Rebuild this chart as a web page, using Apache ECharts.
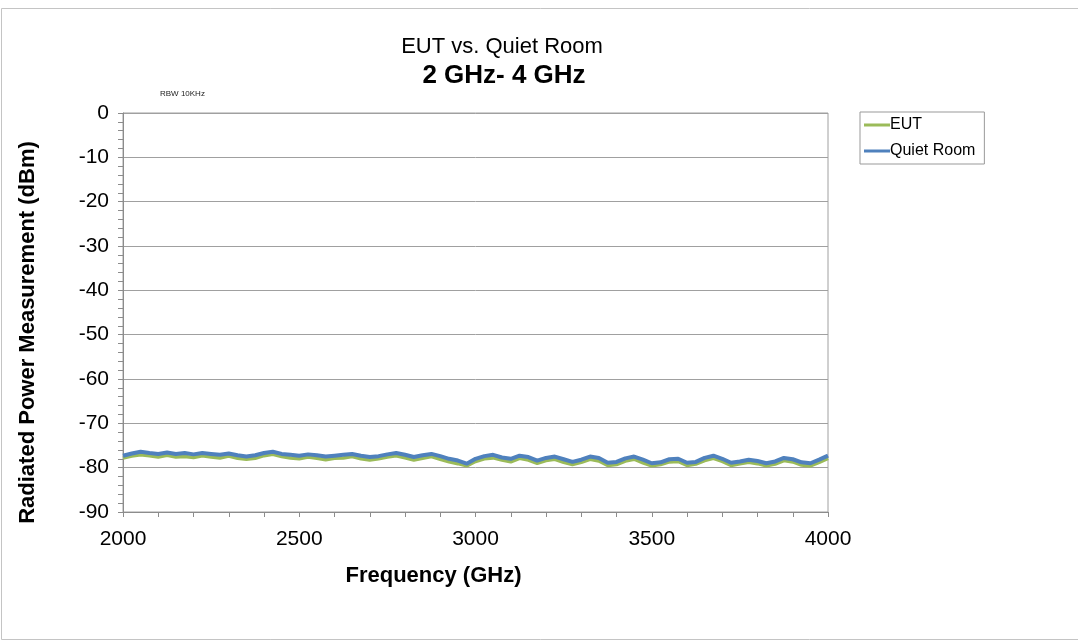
<!DOCTYPE html>
<html>
<head>
<meta charset="utf-8">
<script src="https://cdn.jsdelivr.net/npm/echarts@6/dist/echarts.min.js"></script>
<style>
  html, body { margin: 0; padding: 0; background: #fff; }
  #chart { width: 1078px; height: 644px; }
</style>
</head>
<body>
<div id="chart"></div>
<script>
// frequency points, 25 MHz apart
var freqStart = 2000, freqStep = 25;

var eutValues = [
    -77.8, -77.4, -77.1, -77.3, -77.6, -77.2, -77.6, -77.5, -77.7, -77.3,
    -77.6, -77.8, -77.4, -77.9, -78.1, -77.9, -77.3, -77.0, -77.5, -77.8,
    -78.0, -77.6, -77.9, -78.2, -77.9, -77.8, -77.5, -78.0, -78.3, -78.0,
    -77.6, -77.3, -77.8, -78.3, -77.9, -77.5, -78.1, -78.7, -79.1, -79.6,
    -78.6, -78.0, -77.8, -78.3, -78.7, -77.9, -78.3, -79.0, -78.4, -78.1,
    -78.8, -79.3, -78.8, -78.1, -78.5, -79.5, -79.3, -78.5, -78.1, -78.9,
    -79.6, -79.3, -78.7, -78.6, -79.5, -79.2, -78.4, -77.9, -78.6, -79.5,
    -79.1, -78.8, -79.1, -79.6, -79.2, -78.4, -78.7, -79.4, -79.6, -78.8,
    -77.9
];

var quietValues = [
    -77.3, -76.8, -76.4, -76.7, -76.9, -76.6, -76.9, -76.7, -77.0, -76.7,
    -76.9, -77.1, -76.8, -77.2, -77.5, -77.2, -76.7, -76.4, -76.9, -77.1,
    -77.3, -77.0, -77.2, -77.5, -77.3, -77.1, -76.9, -77.3, -77.6, -77.4,
    -77.0, -76.7, -77.1, -77.6, -77.2, -76.9, -77.4, -78.0, -78.4, -79.1,
    -78.0, -77.4, -77.1, -77.7, -78.0, -77.3, -77.6, -78.4, -77.8, -77.5,
    -78.1, -78.7, -78.2, -77.5, -77.8, -78.9, -78.7, -77.9, -77.5, -78.2,
    -79.0, -78.8, -78.1, -78.0, -78.9, -78.7, -77.8, -77.3, -78.0, -78.9,
    -78.6, -78.2, -78.5, -79.0, -78.6, -77.8, -78.1, -78.8, -79.0, -78.2,
    -77.3
];

var seriesNames = ['EUT', 'Quiet Room'];
var titleLines = ['EUT vs. Quiet Room', '2 GHz- 4 GHz'];
var noteText = 'RBW 10KHz';

var toPairs = function (values) {
    return values.map(function (v, i) {
        return [freqStart + i * freqStep, v];
    });
};

var chart = echarts.init(document.getElementById('chart'));
var axisGray = '#8c8c8c';
var font = 'Liberation Sans';

chart.setOption({
    animation: false,
    backgroundColor: '#fff',
    title: [{
        text: titleLines[0],
        left: 497, top: 31, textAlign: 'center',
        textStyle: { fontFamily: font, fontSize: 22, fontWeight: 'normal', color: '#000' }
    }, {
        text: titleLines[1],
        left: 499, top: 58, textAlign: 'center',
        textStyle: { fontFamily: font, fontSize: 26, fontWeight: 'bold', color: '#000' }
    }],
    graphic: [{
        type: 'rect', silent: true,
        shape: { x: 1.5, y: 8.5, width: 1100, height: 631 },
        style: { fill: 'none', stroke: '#c4c4c4', lineWidth: 1 }
    }, {
        type: 'text', left: 160, top: 90,
        style: { text: noteText, font: '8px "Liberation Sans"', fill: '#222' }
    }],
    legend: {
        orient: 'vertical',
        left: 860, top: 112,
        data: seriesNames,
        icon: 'rect',
        itemWidth: 26, itemHeight: 3, itemGap: 10,
        padding: [5, 9, 5, 4],
        borderColor: '#999', borderWidth: 1,
        textStyle: { fontFamily: font, fontSize: 16, color: '#000', padding: [0, 0, 0, -5] }
    },
    grid: {
        left: 123, right: 250, top: 113, bottom: 132,
        show: true, borderColor: '#a0a0a0', borderWidth: 1
    },
    xAxis: [{
        type: 'value', min: 2000, max: 4000, interval: 500,
        position: 'bottom',
        name: 'Frequency (GHz)', nameLocation: 'middle', nameGap: 53,
        nameTextStyle: { fontFamily: font, fontSize: 22, fontWeight: 'bold', color: '#000', padding: [0, 84, 0, 0] },
        axisLine: { onZero: false, lineStyle: { color: axisGray } },
        axisTick: { show: true, length: 5, lineStyle: { color: axisGray } },
        minorTick: { show: true, splitNumber: 5, length: 5, lineStyle: { color: axisGray } },
        axisLabel: {
            margin: 17, fontFamily: font, fontSize: 21, color: '#000',
            formatter: function (v) { return String(v); }
        },
        splitLine: { show: false }
    }],
    yAxis: {
        type: 'value', min: -90, max: 0, interval: 10,
        name: 'Radiated Power Measurement (dBm)', nameLocation: 'middle', nameGap: 84,
        nameTextStyle: { fontFamily: font, fontSize: 22, fontWeight: 'bold', color: '#000', padding: [0, 40, 0, 0] },
        axisLine: { show: true, onZero: false, lineStyle: { color: axisGray } },
        axisTick: { show: true, length: 5, lineStyle: { color: axisGray } },
        minorTick: { show: true, splitNumber: 5, length: 5, lineStyle: { color: axisGray } },
        axisLabel: { margin: 14, fontFamily: font, fontSize: 21, color: '#000' },
        splitLine: { show: true, lineStyle: { color: '#a0a0a0', width: 1 } }
    },
    series: [{
        name: seriesNames[0],
        type: 'line',
        data: toPairs(eutValues),
        symbol: 'none',
        lineStyle: { color: '#9BBB59', width: 3.5 },
        itemStyle: { color: '#9BBB59' },
        z: 2
    }, {
        name: seriesNames[1],
        type: 'line',
        data: toPairs(quietValues),
        symbol: 'none',
        lineStyle: { color: '#4F81BD', width: 4 },
        itemStyle: { color: '#4F81BD' },
        z: 3
    }]
});
</script>
</body>
</html>
